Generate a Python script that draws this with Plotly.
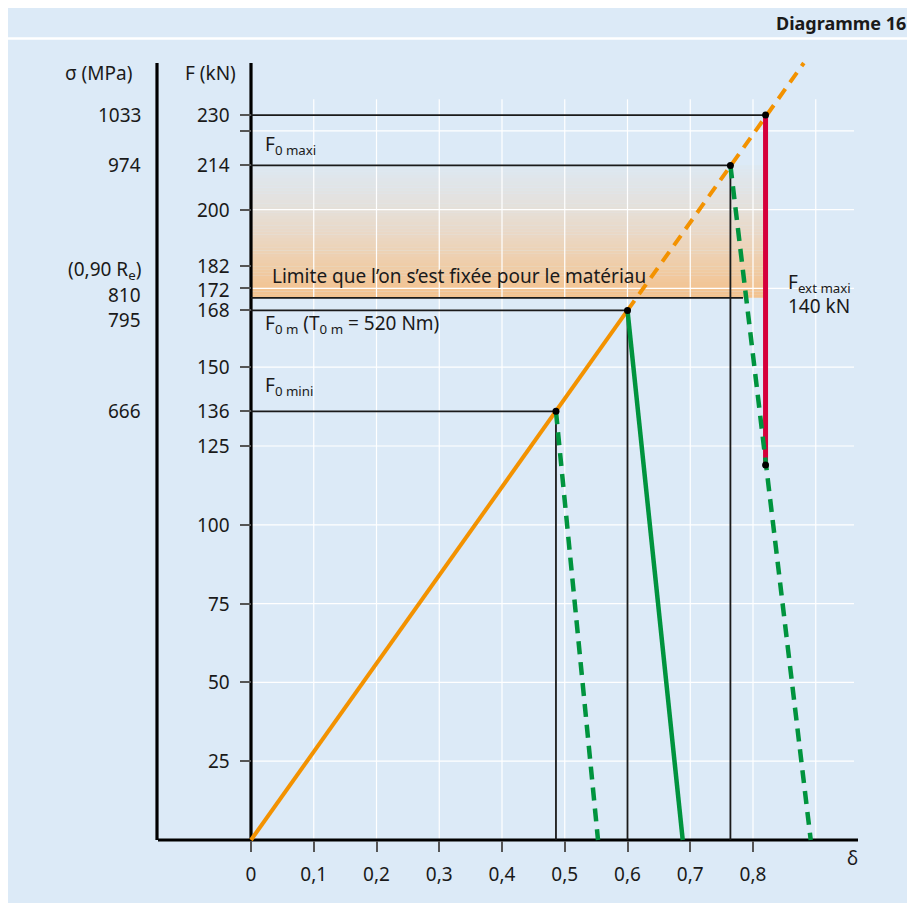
import plotly.graph_objects as go

# page body keeps its default 8px margin, so the figure is made smaller
# and every reference pixel position is shifted by that amount
OFF = 8
W, H = 915 - OFF, 903 - OFF

# operating points on the loading line: delta (-) and F (kN)
key_delta = [0.486, 0.600, 0.764, 0.820]
key_force = [136, 168, 214, 230]

# delta where each unloading line (green) comes back to F = 0
unload_end_delta = [0.553, 0.688, 0.892]
unload_dash = ["13px,8px", "solid", "13px,8px"]

# end of the dashed extension of the loading line
load_ext_delta = 0.881
load_ext_force = 246.5

# red segment (F ext maxi) at delta = 0.82
fext_delta = 0.820
fext_top = 230
fext_bottom = 119

# limit fixed for the material
limit_force = 172
limit_end_delta = 0.784

# axes
delta_ticks = [0, 0.1, 0.2, 0.3, 0.4, 0.5, 0.6, 0.7, 0.8]
delta_labels = ["0", "0,1", "0,2", "0,3", "0,4", "0,5", "0,6", "0,7", "0,8"]
f_tick_vals = [25, 50, 75, 100, 125, 136, 150, 168, 175, 182, 200, 214, 225, 230]
f_label_vals = [25, 50, 75, 100, 125, 136, 150, 168, 172, 182, 200, 214, 230]
sigma_at_force = [230, 214, 172, 168, 136]
sigma_labels = ["1033", "974", "810", "795", "666"]

ORANGE = "#f39200"
GREEN = "#00943e"
RED = "#d5003b"
BG = "#dceaf7"
INK = "#1a1a1a"
FONT = "Noto Sans"

# pixel calibration of the drawing (reference page pixels)
X0_PX, PX_PER_DELTA = 251, 627.5
Y0_PX, PX_PER_KN = 840, 3.152
x_range = [(OFF - X0_PX) / PX_PER_DELTA, (915 - X0_PX) / PX_PER_DELTA]
y_range = [-(903 - Y0_PX) / PX_PER_KN, (Y0_PX - OFF) / PX_PER_KN]


def dx(px):
    return (px - X0_PX) / PX_PER_DELTA


def pp(x, y):
    return (x - OFF) / W, 1 - (y - OFF) / H


fig = go.Figure()

# guide lines (black)
gx, gy = [], []
for d, f in zip(key_delta, key_force):
    gx += [0, d, None]
    gy += [f, f, None]
for d, f in zip(key_delta[:3], key_force[:3]):
    gx += [d, d, None]
    gy += [f, 0, None]
gx += [0, limit_end_delta]
gy += [limit_force, limit_force]
fig.add_trace(go.Scatter(x=gx, y=gy, mode="lines", line=dict(color=INK, width=1.8)))

# loading line
fig.add_trace(go.Scatter(x=[0, key_delta[1]], y=[0, key_force[1]], mode="lines",
                         line=dict(color=ORANGE, width=4)))
fig.add_trace(go.Scatter(x=[key_delta[1], load_ext_delta], y=[key_force[1], load_ext_force],
                         mode="lines", line=dict(color=ORANGE, width=4, dash="12px,8px")))

# F ext maxi
fig.add_trace(go.Scatter(x=[fext_delta, fext_delta], y=[fext_top, fext_bottom], mode="lines",
                         line=dict(color=RED, width=5)))

# unloading lines
for d, f, e, dash in zip(key_delta, key_force, unload_end_delta, unload_dash):
    fig.add_trace(go.Scatter(x=[d, e], y=[f, 0], mode="lines",
                             line=dict(color=GREEN, width=4.5, dash=dash)))

fig.add_trace(go.Scatter(x=key_delta + [fext_delta], y=key_force + [fext_bottom], mode="markers",
                         marker=dict(color="black", size=7)))

shapes = []
# card background
shapes.append(dict(type="rect", xref="paper", yref="paper", x0=0, x1=1, y0=0, y1=1,
                   fillcolor=BG, line=dict(width=0), layer="below"))
sep = pp(8, 38.5)[1]
shapes.append(dict(type="line", xref="paper", yref="paper", x0=0, x1=1, y0=sep, y1=sep,
                   line=dict(color="white", width=2.5), layer="below"))

# gradient band between the limit and F0 maxi
stops = [(172, (243, 193, 141)), (180, (240, 202, 161)), (192, (234, 216, 197)),
         (202, (228, 225, 221)), (214, (221, 232, 242))]


def band_color(f):
    for (f0, c0), (f1, c1) in zip(stops[:-1], stops[1:]):
        if f0 <= f <= f1:
            t = (f - f0) / (f1 - f0)
            return "rgb(%d,%d,%d)" % tuple(round(a + (b - a) * t) for a, b in zip(c0, c1))
    return BG


n = 42
step = (key_force[2] - limit_force) / n
for i in range(n):
    f0 = limit_force + i * step
    shapes.append(dict(type="rect", x0=0, x1=fext_delta, y0=f0, y1=f0 + step + 0.05,
                       fillcolor=band_color(f0 + step / 2), line=dict(width=0), layer="below"))

# white grid
for k in range(1, 10):
    shapes.append(dict(type="line", x0=k / 10, x1=k / 10, y0=0, y1=235,
                       line=dict(color="white", width=1.2), layer="below"))
for k in range(1, 10):
    shapes.append(dict(type="line", x0=0, x1=0.961, y0=25 * k, y1=25 * k,
                       line=dict(color="white", width=1.2), layer="below"))

# axis lines
axis = dict(color="black", width=3.2)
shapes.append(dict(type="line", x0=0, x1=0, y0=0, y1=load_ext_force, line=axis, layer="below"))
shapes.append(dict(type="line", x0=dx(157), x1=dx(157), y0=0, y1=load_ext_force, line=axis,
                   layer="below"))
shapes.append(dict(type="line", x0=dx(158), x1=dx(858), y0=0, y1=0, line=axis, layer="below"))

ann = []
txt = dict(family=FONT, size=19, color=INK)
f_shift = {172: 8}
for v in f_label_vals:
    ann.append(dict(x=pp(232, 0)[0], xref="paper", y=v, yref="y", text=str(v), xanchor="right",
                    yanchor="middle", showarrow=False, font=txt, yshift=f_shift.get(v, 0)))
s_shift = {"810": 3, "795": -10}
for v, lab in zip(sigma_at_force, sigma_labels):
    ann.append(dict(x=pp(143, 0)[0], xref="paper", y=v, yref="y", text=lab, xanchor="right",
                    yanchor="middle", showarrow=False, font=txt, yshift=s_shift.get(lab, 0)))
ann.append(dict(x=pp(143, 0)[0], xref="paper", y=limit_force, yref="y",
                text="(0,90 R<sub>e</sub>)", xanchor="right", yanchor="middle",
                showarrow=False, font=txt, yshift=28))


def label(text, x, y, xanchor="left", font=txt):
    px_, py_ = pp(x, y)
    ann.append(dict(x=px_, y=py_, xref="paper", yref="paper", text=text, xanchor=xanchor,
                    yanchor="middle", showarrow=False, font=font))


label("σ (MPa)", 98, 73, "center")
label("F (kN)", 210, 73, "center")
label("F<sub>0 maxi</sub>", 263, 145)
label("Limite que l’on s’est fixée pour le matériau", 270, 276)
label("F<sub>0 m</sub> (T<sub>0 m</sub> = 520 Nm)", 263, 324)
label("F<sub>0 mini</sub>", 263, 386)
label("F<sub>ext maxi</sub>", 786, 283)
label("140 kN", 786, 306)
label("δ", 852, 858, "center")
label("<b>Diagramme 16</b>", 908, 23, "right", font=dict(family=FONT, size=18, color=INK))

fig.update_layout(
    width=W, height=H, autosize=False,
    margin=dict(l=0, r=0, t=0, b=0),
    paper_bgcolor="white", plot_bgcolor="rgba(0,0,0,0)",
    showlegend=False,
    shapes=shapes, annotations=ann,
    xaxis=dict(range=x_range, domain=[0, 1], anchor="free", position=(903 - Y0_PX) / H,
               showgrid=False, zeroline=False, showline=False,
               tickmode="array", tickvals=delta_ticks, ticktext=delta_labels,
               ticks="outside", ticklen=11, tickwidth=1.5, tickcolor="#555",
               tickfont=txt, ticklabelstandoff=6),
    yaxis=dict(range=y_range, domain=[0, 1], anchor="free", position=(X0_PX - OFF) / W,
               showgrid=False, zeroline=False, showline=False,
               tickmode="array", tickvals=f_tick_vals, showticklabels=False,
               ticks="outside", ticklen=11, tickwidth=1.5, tickcolor="#555"),
    yaxis2=dict(range=y_range, overlaying="y", anchor="free", position=(157 - OFF) / W,
                showgrid=False, zeroline=False, showline=False,
                tickmode="array", tickvals=sigma_at_force, showticklabels=False,
                ticks="outside", ticklen=9, tickwidth=1.5, tickcolor="#555"),
)

fig.write_html("out.html")
